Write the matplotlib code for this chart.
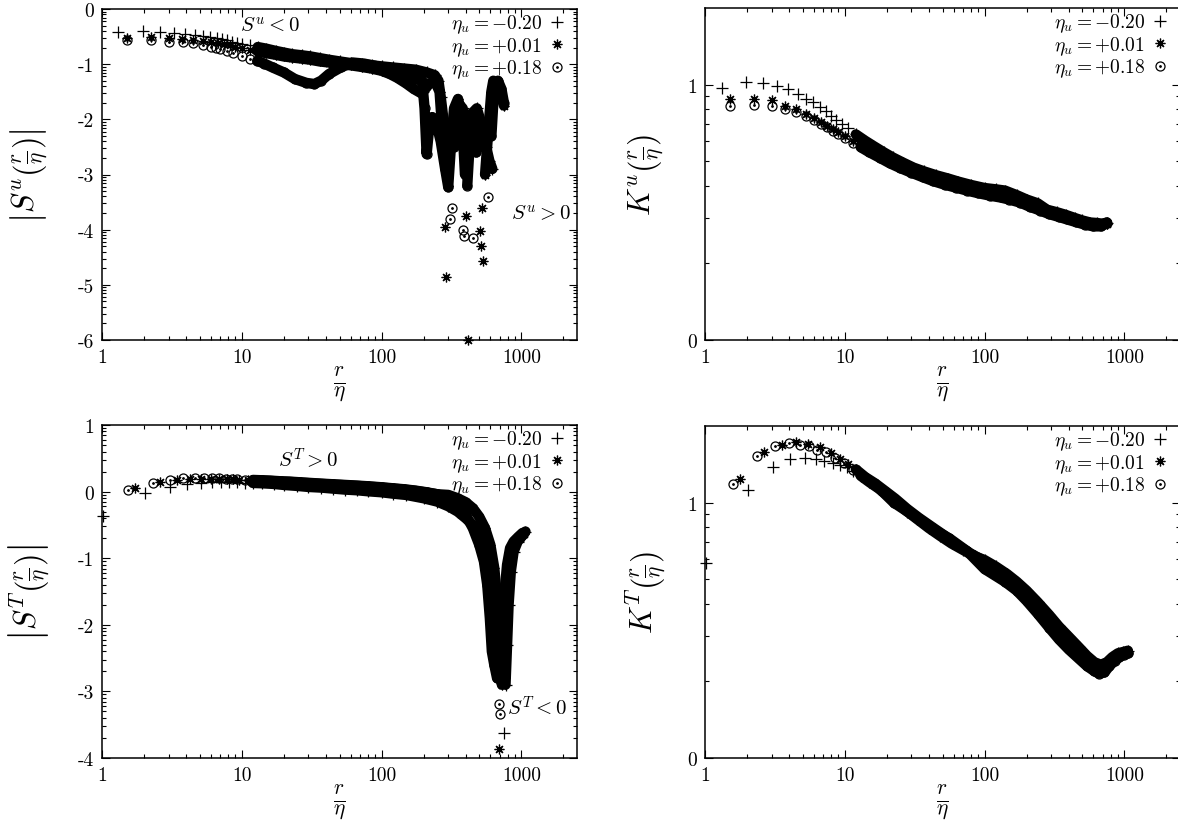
import numpy as np
import matplotlib
matplotlib.use("Agg")
import matplotlib.pyplot as plt
from matplotlib.lines import Line2D
from matplotlib.ticker import FixedLocator, LogLocator, FuncFormatter, NullFormatter

plt.rcParams['font.family'] = 'cmr10'
plt.rcParams['mathtext.fontset'] = 'cm'
plt.rcParams['axes.formatter.use_mathtext'] = True

# ---- data: r/eta and log10 of the plotted quantity ----
labels = [r'$\eta_u = -0.20$', r'$\eta_u = +0.01$', r'$\eta_u = +0.18$']

# |S^u|
su_r_m020 = [1.31, 1.97, 2.62, 3.28, 3.94, 4.6, 5.25, 5.9, 6.6, 7.2, 7.9, 8.5, 9.2, 10, 11.5, 13, 15, 17.5,
             20, 23, 27, 31, 36, 42, 50, 60, 72, 85, 100, 120, 145, 175, 210, 240, 255, 265, 280, 300, 330,
             352, 380, 410, 440, 480, 520, 560, 590, 620]
su_m020 = [-0.42, -0.40, -0.42, -0.44, -0.45, -0.47, -0.49, -0.51, -0.53, -0.55, -0.57, -0.59, -0.61, -0.63,
           -0.66, -0.69, -0.72, -0.76, -0.79, -0.82, -0.84, -0.86, -0.89, -0.92, -0.95, -0.98, -1.0, -1.02,
           -1.04, -1.06, -1.08, -1.1, -1.15, -1.2, -1.3, -1.6, -2.1, -2.6, -2.2, -1.7, -1.8, -2.2, -1.9, -1.8,
           -2.1, -2.5, -2.75, -2.9]
su_r_p001 = [1.5, 2.25, 3.0, 3.75, 4.5, 5.25, 6.0, 6.75, 7.5, 8.25, 9.0, 10, 11.5, 13, 15, 17.5, 20, 23, 27,
             31, 36, 42, 50, 60, 72, 85, 100, 115, 130, 150, 170, 190, 205, 220, 240, 260, 275, 284, 290, 300,
             315, 330, 352, 375, 395, 405, 415, 430, 460, 490, 505, 515, 525, 535, 550, 580, 610, 630, 660,
             700, 750]
su_p001 = [-0.53, -0.51, -0.53, -0.55, -0.56, -0.58, -0.6, -0.62, -0.64, -0.66, -0.68, -0.71, -0.74, -0.77,
           -0.8, -0.83, -0.86, -0.88, -0.9, -0.92, -0.95, -0.97, -1.0, -1.02, -1.05, -1.08, -1.12, -1.18,
           -1.25, -1.35, -1.45, -1.52, -1.45, -1.35, -1.3, -1.5, -2.4, -3.96, -4.85, -3.2, -2.4, -1.8, -1.63,
           -1.9, -3.0, -3.75, -6.0, -2.6, -1.87, -2.4, -4.02, -4.3, -3.6, -4.56, -3.0, -2.2, -1.5, -1.3,
           -1.35, -1.5, -1.75]
su_r_p018 = [1.5, 2.25, 3.0, 3.78, 4.5, 5.25, 6.0, 6.5, 7.0, 7.8, 8.6, 10, 11.5, 12.9, 14.5, 16.6, 20, 24,
             29, 33, 37, 42, 51, 62, 75, 90, 105, 125, 150, 175, 195, 203, 210, 218, 230, 245, 265, 285,
             300, 311, 318, 330, 352, 370, 380, 390, 410, 430, 453, 475, 500, 540, 580, 610, 640, 680, 720,
             750]
su_p018 = [-0.56, -0.57, -0.59, -0.6, -0.62, -0.65, -0.68, -0.71, -0.73, -0.76, -0.8, -0.85, -0.9, -0.94,
           -0.99, -1.06, -1.15, -1.27, -1.34, -1.36, -1.3, -1.18, -1.06, -0.97, -0.99, -1.03, -1.09, -1.15,
           -1.22, -1.27, -1.3, -1.8, -2.63, -2.2, -1.96, -2.05, -2.4, -2.9, -3.23, -3.8, -3.6, -2.5, -1.75,
           -2.1, -4.0, -4.12, -3.2, -2.3, -4.16, -2.6, -2.0, -2.5, -3.4, -2.3, -1.4, -1.3, -1.45, -1.7]

# K^u
ku_r_m020 = [1.32, 1.96, 2.62, 3.29, 3.95, 4.6, 5.3, 5.9, 6.6, 7.3, 8.0, 8.7, 9.5, 10.5, 12, 14, 16, 19, 22,
             26, 31, 37, 45, 55, 65, 80, 100, 120, 140, 170, 200, 240, 280, 330, 380, 440, 500, 570, 640,
             700, 750]
ku_m020 = [0.987, 1.01, 1.008, 0.995, 0.982, 0.962, 0.945, 0.932, 0.912, 0.895, 0.878, 0.862, 0.847, 0.83,
           0.805, 0.78, 0.76, 0.735, 0.715, 0.695, 0.675, 0.66, 0.645, 0.632, 0.62, 0.607, 0.595, 0.59,
           0.585, 0.567, 0.55, 0.535, 0.51, 0.5, 0.49, 0.478, 0.468, 0.46, 0.458, 0.455, 0.46]
ku_r_p001 = [1.5, 2.25, 3.0, 3.75, 4.5, 5.25, 6.0, 6.75, 7.5, 8.25, 9, 10, 11.5, 13, 15, 18, 21, 25, 30, 36,
             43, 52, 62, 75, 90, 110, 130, 150, 180, 210, 250, 290, 340, 390, 450, 520, 600, 680, 750]
ku_p001 = [0.945, 0.945, 0.938, 0.916, 0.903, 0.885, 0.868, 0.852, 0.838, 0.825, 0.813, 0.797, 0.78, 0.762,
           0.743, 0.72, 0.70, 0.682, 0.665, 0.648, 0.633, 0.62, 0.608, 0.597, 0.588, 0.578, 0.57, 0.562,
           0.55, 0.535, 0.52, 0.505, 0.495, 0.485, 0.472, 0.462, 0.452, 0.45, 0.455]
ku_r_p018 = ku_r_p001
ku_p018 = [0.916, 0.921, 0.916, 0.906, 0.893, 0.878, 0.862, 0.847, 0.833, 0.82, 0.808, 0.792, 0.773, 0.755,
           0.735, 0.712, 0.692, 0.673, 0.655, 0.638, 0.622, 0.608, 0.597, 0.585, 0.575, 0.565, 0.558, 0.55,
           0.538, 0.522, 0.507, 0.493, 0.482, 0.472, 0.462, 0.452, 0.445, 0.445, 0.46]

# |S^T|
st_r_m020 = [1.02, 2.02, 3.05, 4.07, 5.1, 6.1, 7.1, 8.1, 9.2, 10.5, 12, 14, 17, 20, 25, 30, 37, 45, 55, 67,
             80, 100, 120, 150, 200, 250, 300, 350, 400, 450, 500, 550, 600, 650, 700, 730, 745, 755, 770,
             790, 810, 840, 880, 940, 1000, 1070]
st_m020 = [-0.37, -0.02, 0.075, 0.115, 0.13, 0.14, 0.145, 0.145, 0.14, 0.135, 0.13, 0.125, 0.115, 0.1,
           0.085, 0.07, 0.06, 0.045, 0.03, 0.02, 0.005, -0.01, -0.03, -0.05, -0.1, -0.15, -0.22, -0.3, -0.4,
           -0.5, -0.62, -0.8, -1.05, -1.4, -1.9, -2.5, -2.8, -3.62, -2.9, -2.3, -1.7, -1.2, -0.9, -0.75,
           -0.68, -0.6]
st_r_p001 = [1.72, 2.58, 3.42, 4.25, 5.1, 6.0, 6.9, 7.8, 8.7, 9.6, 11, 12.5, 14, 16, 19, 22, 26, 31, 37, 45,
             55, 67, 80, 100, 120, 145, 175, 210, 250, 300, 350, 400, 450, 500, 550, 600, 640, 670, 690, 696,
             710, 725, 745, 770, 800, 840, 900, 970, 1040]
st_p001 = [0.055, 0.15, 0.175, 0.185, 0.19, 0.19, 0.19, 0.185, 0.185, 0.18, 0.175, 0.17, 0.165, 0.16, 0.15,
           0.145, 0.135, 0.125, 0.115, 0.105, 0.095, 0.085, 0.075, 0.06, 0.045, 0.03, 0.01, -0.015, -0.04,
           -0.05, -0.1, -0.16, -0.25, -0.38, -0.55, -0.8, -1.15, -1.6, -2.2, -3.86, -2.6, -2.9, -2.3, -1.7,
           -1.2, -0.9, -0.78, -0.7, -0.64]
st_r_p018 = [1.54, 2.31, 3.06, 3.8, 4.6, 5.4, 6.1, 6.9, 7.7, 8.5, 9.3, 10.5, 12, 14, 16, 19, 22, 26, 31, 37,
             45, 55, 67, 80, 100, 120, 145, 175, 210, 250, 300, 350, 400, 450, 500, 540, 570, 595, 615, 640,
             670, 690, 700, 710, 730, 760, 790, 830, 880, 950, 1020]
st_p018 = [0.025, 0.13, 0.18, 0.2, 0.205, 0.205, 0.2, 0.2, 0.195, 0.19, 0.185, 0.18, 0.175, 0.17, 0.165,
           0.155, 0.15, 0.14, 0.13, 0.12, 0.11, 0.1, 0.09, 0.08, 0.065, 0.05, 0.035, 0.015, -0.01, -0.04,
           -0.1, -0.2, -0.35, -0.55, -0.8, -1.05, -1.4, -1.9, -2.4, -2.6, -2.8, -3.19, -3.34, -2.7, -2.1,
           -1.5, -1.1, -0.85, -0.75, -0.68, -0.62]

# K^T
kt_r_m020 = [1.02, 2.02, 3.09, 4.07, 5.2, 6.25, 7.14, 8.2, 9.2, 10.3, 11.5, 13, 15, 17.5, 20, 24, 28, 33, 40,
             48, 58, 70, 85, 100, 120, 145, 170, 200, 240, 290, 340, 400, 470, 540, 610, 680, 750, 820, 900,
             980, 1060]
kt_m020 = [0.762, 1.05, 1.141, 1.17, 1.174, 1.171, 1.164, 1.154, 1.148, 1.14, 1.125, 1.105, 1.08, 1.055,
           1.03, 0.995, 0.965, 0.935, 0.9, 0.87, 0.84, 0.815, 0.79, 0.775, 0.75, 0.72, 0.69, 0.655, 0.61,
           0.56, 0.515, 0.475, 0.435, 0.4, 0.375, 0.365, 0.375, 0.395, 0.41, 0.415, 0.42]
kt_r_p001 = [1.79, 2.66, 3.54, 4.47, 5.46, 6.64, 7.96, 9.2, 10.5, 12, 14, 16.5, 19.5, 23, 28, 34, 42, 52, 65,
             80, 100, 120, 145, 170, 200, 240, 290, 340, 400, 470, 540, 610, 680, 740, 800, 870, 950, 1040]
kt_p001 = [1.093, 1.2, 1.226, 1.236, 1.23, 1.217, 1.194, 1.17, 1.15, 1.13, 1.1, 1.075, 1.045, 1.015, 0.975,
           0.94, 0.905, 0.87, 0.83, 0.8, 0.77, 0.74, 0.71, 0.68, 0.645, 0.6, 0.55, 0.505, 0.465, 0.425, 0.39,
           0.365, 0.35, 0.355, 0.38, 0.4, 0.405, 0.41]
kt_r_p018 = [1.58, 2.35, 3.15, 3.96, 4.75, 5.53, 6.3, 7.3, 8.5, 9.85, 11.5, 13.8, 17.6, 22.4, 30.6, 41.4, 56,
             75, 100, 140, 170, 200, 240, 290, 340, 400, 470, 540, 610, 660, 720, 780, 850, 920, 1000, 1070]
kt_p018 = [1.072, 1.183, 1.222, 1.233, 1.226, 1.22, 1.207, 1.198, 1.174, 1.154, 1.128, 1.10, 1.056, 1.0,
           0.951, 0.90, 0.86, 0.81, 0.74, 0.69, 0.655, 0.615, 0.565, 0.51, 0.465, 0.425, 0.39, 0.36, 0.34,
           0.33, 0.335, 0.36, 0.38, 0.395, 0.405, 0.41]

W, H = 1178, 828
fig = plt.figure(figsize=(W / 100, H / 100), dpi=100)


def px_axes(left, right, top, bottom):
    return fig.add_axes([left / W, 1 - bottom / H, (right - left) / W, (bottom - top) / H])


def draw_series(ax, r, ylog, kind, floor):
    r = np.asarray(r, float)
    v = 10 ** np.asarray(ylog, float)
    # dense part of the data shows up as a solid band
    band = np.where((r >= 12) & (np.asarray(ylog) > floor), v, np.nan)
    ax.plot(r, band, color='k', lw=7.5, solid_capstyle='round', solid_joinstyle='round')
    if kind == 'plus':
        ax.plot(r, v, ls='none', marker='+', ms=8, mew=0.9, color='k', clip_on=False)
    elif kind == 'star':
        ax.plot(r, v, ls='none', marker=(8, 2, 0), ms=7, mew=0.9, color='k', clip_on=False)
    else:
        ax.plot(r, v, ls='none', marker='o', ms=6.5, mew=0.9, mfc='none', color='k', clip_on=False)
        ax.plot(r, v, ls='none', marker='.', ms=2, color='k', clip_on=False)


def setup(ax, ylo, yhi, ytop):
    ax.set_xscale('log')
    ax.set_yscale('log')
    ax.set_xlim(1, 2500)
    ax.set_ylim(10.0 ** ylo, 10.0 ** ytop)
    ax.xaxis.set_major_locator(FixedLocator([1, 10, 100, 1000]))
    ax.xaxis.set_minor_locator(LogLocator(base=10, subs=np.arange(2, 10), numticks=100))
    ax.xaxis.set_major_formatter(FuncFormatter(lambda v, p: f"{v:.0f}"))
    ax.xaxis.set_minor_formatter(NullFormatter())
    ax.yaxis.set_major_locator(FixedLocator([10.0 ** k for k in range(ylo, yhi + 1)]))
    ax.yaxis.set_minor_locator(LogLocator(base=10, subs=np.arange(2, 10), numticks=100))
    ax.yaxis.set_major_formatter(FuncFormatter(lambda v, p: f"{int(round(np.log10(v)))}"))
    ax.yaxis.set_minor_formatter(NullFormatter())
    ax.tick_params(which='both', direction='in', top=True, right=True, labelsize=14, pad=6)
    ax.tick_params(which='major', length=6, width=0.8)
    ax.tick_params(which='minor', length=3, width=0.8)
    for s in ax.spines.values():
        s.set_linewidth(1.1)


def add_legend(ax):
    h_plus = Line2D([], [], ls='none', marker='+', ms=8, mew=0.9, color='k')
    h_star = Line2D([], [], ls='none', marker=(8, 2, 0), ms=7, mew=0.9, color='k')
    h_circ = Line2D([], [], ls='none', marker='o', ms=6.5, mew=0.9, mfc='none', color='k')
    h_dot = Line2D([], [], ls='none', marker='.', ms=2, color='k')
    ax.legend([h_plus, h_star, (h_circ, h_dot)], labels, loc='upper right', bbox_to_anchor=(0.98, 1.0),
              frameon=False, markerfirst=False, fontsize=14, handlelength=0.7, handletextpad=0.4,
              labelspacing=0.0, borderpad=0.0, borderaxespad=0.2)


panels = [
    # axes box in pixels, y range (exponents), series, floor for solid band
    ((102, 577, 10, 341), (-6, 0, 0.0), [(su_r_m020, su_m020, 'plus'), (su_r_p001, su_p001, 'star'),
                                         (su_r_p018, su_p018, 'circ')], -3.3,
     r'$\left|S^u\left(\frac{r}{\eta}\right)\right|$'),
    ((705, 1180, 9, 341), (0, 1, 1.3), [(ku_r_m020, ku_m020, 'plus'), (ku_r_p001, ku_p001, 'star'),
                                        (ku_r_p018, ku_p018, 'circ')], -9,
     r'$K^u\left(\frac{r}{\eta}\right)$'),
    ((102, 577, 426, 759), (-4, 1, 1.0), [(st_r_m020, st_m020, 'plus'), (st_r_p001, st_p001, 'star'),
                                          (st_r_p018, st_p018, 'circ')], -3.0,
     r'$\left|S^T\left(\frac{r}{\eta}\right)\right|$'),
    ((705, 1180, 427, 759), (0, 1, 1.3), [(kt_r_m020, kt_m020, 'plus'), (kt_r_p001, kt_p001, 'star'),
                                          (kt_r_p018, kt_p018, 'circ')], -9,
     r'$K^T\left(\frac{r}{\eta}\right)$'),
]

axes = []
for box, (ylo, yhi, ytop), series, floor, ylab in panels:
    ax = px_axes(*box)
    setup(ax, ylo, yhi, ytop)
    for r, y, kind in series:
        draw_series(ax, r, y, kind, floor)
    add_legend(ax)
    left, right, top, bottom = box
    lab_x = left - 73 if left < 300 else left - 59
    fig.text(lab_x / W, 1 - (top + bottom) / 2 / H, ylab, rotation=90, ha='center', va='center', fontsize=22)
    fig.text((left + right) / 2 / W, 1 - (bottom + 44) / H, r'$\frac{r}{\eta}$', ha='center', va='center',
             fontsize=22)
    axes.append(ax)

axes[0].text(15.8, 10 ** -0.29, r'$S^u < 0$', ha='center', va='center', fontsize=15)
axes[0].text(1380, 10 ** -3.7, r'$S^u > 0$', ha='center', va='center', fontsize=15)
axes[2].text(30, 10 ** 0.515, r'$S^T > 0$', ha='center', va='center', fontsize=15)
axes[2].text(1303, 10 ** -3.23, r'$S^T < 0$', ha='center', va='center', fontsize=15)

fig.savefig('out.png', dpi=100)
